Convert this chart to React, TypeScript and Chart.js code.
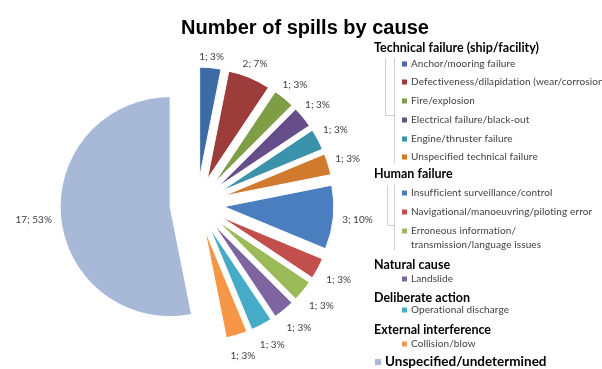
import React, { useEffect, useRef } from "react";
import { Chart, registerables } from "chart.js";

Chart.register(...registerables);

// Spill causes, in slice order (clockwise from 12 o'clock)
const causes = [
  "Anchor/mooring failure",
  "Defectiveness/dilapidation (wear/corrosion)",
  "Fire/explosion",
  "Electrical failure/black-out",
  "Engine/thruster failure",
  "Unspecified technical failure",
  "Insufficient surveillance/control",
  "Navigational/manoeuvring/piloting error",
  "Erroneous information/\ntransmission/language issues",
  "Landslide",
  "Operational discharge",
  "Collision/blow",
  "Unspecified/undetermined",
];

// Number of spills per cause
const counts = [1, 2, 1, 1, 1, 1, 3, 1, 1, 1, 1, 1, 17];

// Share of all spills, as printed beside each slice (%)
const sharePct = [3, 7, 3, 3, 3, 3, 10, 3, 3, 3, 3, 3, 53];

const sliceColors = [
  "#3E6BA3",
  "#9C3D3B",
  "#7E9E45",
  "#664E8A",
  "#3A93AB",
  "#D07A2E",
  "#4A7EBF",
  "#C24F4C",
  "#9BBB59",
  "#7F64A2",
  "#46ABC7",
  "#F79646",
  "#A8B8D7",
];

// Cause groups shown in the legend (indices into causes)
const groupTitles = [
  "Technical failure (ship/facility)",
  "Human failure",
  "Natural cause",
  "Deliberate action",
  "External interference",
];
const groupMembers = [[0, 1, 2, 3, 4, 5], [6, 7, 8], [9], [10], [11]];
const ungroupedIndex = 12;

const chartTitle = "Number of spills by cause";

// Distance each slice is pulled away from the centre (px)
const EXPLODE = 27;

const FONT_BODY = "Lato, 'Open Sans', sans-serif";
const TEXT_GREY = "#404040";

// Draws every slice shifted outward along its bisector
const explodePlugin = {
  id: "explodeSlices",
  beforeDatasetDraw(chart: any, args: any) {
    const ctx = chart.ctx as CanvasRenderingContext2D;
    const arcs = args.meta.data;
    arcs.forEach((arc: any) => {
      const mid = (arc.startAngle + arc.endAngle) / 2;
      ctx.save();
      ctx.translate(Math.cos(mid) * EXPLODE, Math.sin(mid) * EXPLODE);
      arc.draw(ctx);
      ctx.restore();
    });
    return false;
  },
};

// "count; share%" labels outside each slice
const sliceLabelPlugin = {
  id: "sliceLabels",
  afterDatasetsDraw(chart: any) {
    const ctx = chart.ctx as CanvasRenderingContext2D;
    const arcs = chart.getDatasetMeta(0).data;
    ctx.save();
    ctx.font = `10px ${FONT_BODY}`;
    ctx.fillStyle = TEXT_GREY;
    ctx.textAlign = "center";
    ctx.textBaseline = "middle";
    arcs.forEach((arc: any, i: number) => {
      const text = `${counts[i]}; ${sharePct[i]}%`;
      const w = ctx.measureText(text).width;
      const h = 12;
      const mid = (arc.startAngle + arc.endAngle) / 2;
      const c = Math.cos(mid);
      const s = Math.sin(mid);
      const dist =
        arc.outerRadius + EXPLODE + 8 + Math.abs(c) * (w / 2) + Math.abs(s) * (h / 2) + 4 * s;
      ctx.fillText(text, arc.x + c * dist, arc.y + s * dist);
    });
    ctx.restore();
  },
};

// Title plus the grouped legend on the right
const sideTextPlugin = {
  id: "sideText",
  afterDraw(chart: any) {
    const ctx = chart.ctx as CanvasRenderingContext2D;
    ctx.save();

    ctx.fillStyle = "#000";
    ctx.font = "bold 20px 'Liberation Sans', Arial, sans-serif";
    ctx.textAlign = "center";
    ctx.textBaseline = "middle";
    ctx.fillText(chartTitle, 305, 28);

    // Row centres: group header, then its entries
    const headerY = [48, 174, 265, 298, 330];
    const entryY = [[64, 82, 101, 120, 139, 157], [193, 212, 231], [279], [310], [344]];
    const headerX = 374;
    const markerX = 402;
    const entryX = 411;

    // bracket guides beside the first two groups
    ctx.strokeStyle = "#D0D0D0";
    ctx.lineWidth = 1;
    const bracket = (xL: number, xR: number, top: number, knee: number, bottom: number) => {
      ctx.beginPath();
      ctx.moveTo(xL + 0.5, top);
      ctx.lineTo(xL + 0.5, knee + 0.5);
      ctx.lineTo(xR + 0.5, knee + 0.5);
      ctx.moveTo(xR + 0.5, top);
      ctx.lineTo(xR + 0.5, bottom);
      ctx.stroke();
    };
    bracket(385, 394, 58, 115, 163);
    bracket(387, 394, 185, 225, 250);

    ctx.textAlign = "left";
    groupTitles.forEach((title, g) => {
      ctx.font = `bold 12.5px ${FONT_BODY}`;
      ctx.fillStyle = "#000";
      ctx.fillText(title, headerX, headerY[g]);
      groupMembers[g].forEach((idx, k) => {
        const y = entryY[g][k];
        ctx.fillStyle = sliceColors[idx];
        ctx.fillRect(markerX, y - 2.5, 5, 5);
        ctx.font = `10px ${FONT_BODY}`;
        (ctx as any).letterSpacing = "0.1px";
        ctx.fillStyle = TEXT_GREY;
        causes[idx].split("\n").forEach((line, l) => {
          ctx.fillText(line, entryX, y + l * 14);
        });
        (ctx as any).letterSpacing = "0px";
      });
    });

    // Undetermined causes sit outside the groups
    const uy = 362;
    ctx.fillStyle = sliceColors[ungroupedIndex];
    ctx.fillRect(375, uy - 3, 6, 6);
    ctx.font = `bold 13.5px ${FONT_BODY}`;
    ctx.fillStyle = "#000";
    ctx.fillText(causes[ungroupedIndex], 385, uy);

    ctx.restore();
  },
};

export default function App() {
  const canvasRef = useRef<HTMLCanvasElement>(null);

  useEffect(() => {
    if (!canvasRef.current) return;
    const chart = new Chart(canvasRef.current, {
      type: "pie",
      data: {
        labels: causes,
        datasets: [
          {
            data: counts,
            backgroundColor: sliceColors,
            borderColor: "#FFFFFF",
            borderWidth: 1,
            radius: 110,
          },
        ],
      },
      options: {
        animation: false,
        responsive: false,
        maintainAspectRatio: false,
        layout: { padding: { left: 47, right: 255, top: 54, bottom: 15 } },
        plugins: {
          legend: { display: false },
          title: { display: false },
          tooltip: { enabled: false },
        },
      },
      plugins: [explodePlugin, sliceLabelPlugin, sideTextPlugin],
    });
    return () => chart.destroy();
  }, []);

  return (
    <div style={{ position: "fixed", left: 0, top: 0, width: 602, height: 369, background: "#fff" }}>
      <canvas ref={canvasRef} width={602} height={369} style={{ width: 602, height: 369 }} />
    </div>
  );
}
